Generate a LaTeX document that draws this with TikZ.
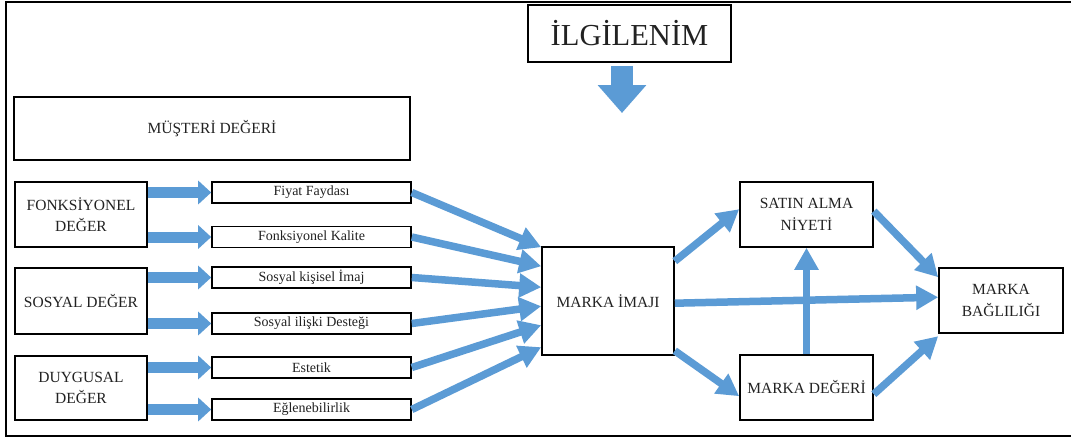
\documentclass[tikz,border=0pt]{standalone}
\usepackage{fontspec}
\setmainfont{Liberation Serif}
\usetikzlibrary{arrows.meta}
\definecolor{myblue}{HTML}{5B9BD5}
\definecolor{txt}{HTML}{222222}
\begin{document}
\begin{tikzpicture}[x=1pt,y=-1pt,
  box/.style={draw, line width=1.6pt, align=center, inner sep=0pt, text=txt,
    font=\fontsize{15.5}{21.5}\selectfont},
  smallbox/.style={draw, line width=1.6pt, align=center, inner sep=0pt, text=txt,
    minimum width=199pt, minimum height=21pt, font=\fontsize{14}{16}\selectfont},
  conn/.style={draw=myblue, line width=7.5pt, -{Triangle[length=22pt,width=23pt]}},
  blockarrow/.style={draw=myblue, line width=11pt, -{Triangle[length=13pt,width=23pt]}},
  bigarrow/.style={draw=myblue, line width=22pt, -{Triangle[length=28pt,width=47pt]}}
]
\useasboundingbox (0,0) rectangle (1071,439);
\fill[white] (0,0) rectangle (1071,439);
% outer frame
\draw[line width=2pt] (1071,2) -- (6,2) -- (6,436) -- (1071,436);

% top
\node[box, minimum width=203pt, minimum height=57pt, font=\fontsize{30.5}{34}\selectfont] (ilg) at (629.5,33.5) {İLGİLENİM};
\coordinate (ilgtip) at (622,113);
\draw[bigarrow] (ilg.south -| ilgtip) ++(0,3) -- (ilgtip);

\node[box, minimum width=396pt, minimum height=63pt] (mus) at (212,128.5) {MÜŞTERİ DEĞERİ};

% left group boxes
\node[box, minimum width=132pt, minimum height=65pt] (fd) at (81,214.5) {FONKSİYONEL\\DEĞER};
\node[box, minimum width=132pt, minimum height=66pt] (sd) at (81,301) {SOSYAL DEĞER};
\node[box, minimum width=132pt, minimum height=64pt] (dd) at (81,388) {DUYGUSAL\\DEĞER};

% small boxes
\node[smallbox] (s1) at (311.5,192.5) {Fiyat Faydası};
\node[smallbox] (s2) at (311.5,237) {Fonksiyonel Kalite};
\node[smallbox] (s3) at (311.5,277.5) {Sosyal kişisel İmaj};
\node[smallbox] (s4) at (311.5,323.5) {Sosyal ilişki Desteği};
\node[smallbox] (s5) at (311.5,367.5) {Estetik};
\node[smallbox] (s6) at (311.5,409.5) {Eğlenebilirlik};

% right boxes
\node[box, minimum width=132pt, minimum height=108pt] (imaj) at (608,301) {MARKA İMAJI};
\node[box, minimum width=133pt, minimum height=65pt] (sat) at (806.5,214.5) {SATIN ALMA\\NİYETİ};
\node[box, minimum width=133pt, minimum height=65pt] (deg) at (806.5,387.5) {MARKA DEĞERİ};
\node[box, minimum width=124pt, minimum height=65pt] (bag) at (1001,300.5) {MARKA\\BAĞLILIĞI};

% block arrows
\draw[blockarrow] (fd.east |- s1.west) -- (s1.west);
\draw[blockarrow] (fd.east |- s2.west) -- (s2.west);
\draw[blockarrow] (sd.east |- s3.west) -- (s3.west);
\draw[blockarrow] (sd.east |- s4.west) -- (s4.west);
\draw[blockarrow] (dd.east |- s5.west) -- (s5.west);
\draw[blockarrow] (dd.east |- s6.west) -- (s6.west);

% small boxes to imaj
\draw[conn] (s1.east) -- ([yshift=-1pt]imaj.north west);
\draw[conn] (s2.east) -- ([yshift=-20pt]imaj.north west);
\draw[conn] (s3.east) -- ([yshift=-41pt]imaj.north west);
\draw[conn] (s4.east) -- ([yshift=-60pt]imaj.north west);
\draw[conn] (s5.east) -- ([yshift=-79pt]imaj.north west);
\draw[conn] (s6.east) -- ([yshift=-101pt]imaj.north west);

% right side
\draw[conn] ([yshift=-15pt]imaj.north east) -- ([yshift=-28pt]sat.north west);
\draw[conn] ([yshift=5pt]imaj.south east) -- ([yshift=-42pt]deg.north west);
\draw[conn] ([yshift=-57pt]imaj.north east) -- ([yshift=-30pt]bag.north west);
\draw[conn] (deg.north) -- (sat.south);
\draw[conn] ([yshift=-30pt]sat.north east) -- ([yshift=-10pt]bag.north west);
\draw[conn] ([yshift=-40pt]deg.north east) -- ([yshift=-69pt]bag.north west);
\end{tikzpicture}
\end{document}
